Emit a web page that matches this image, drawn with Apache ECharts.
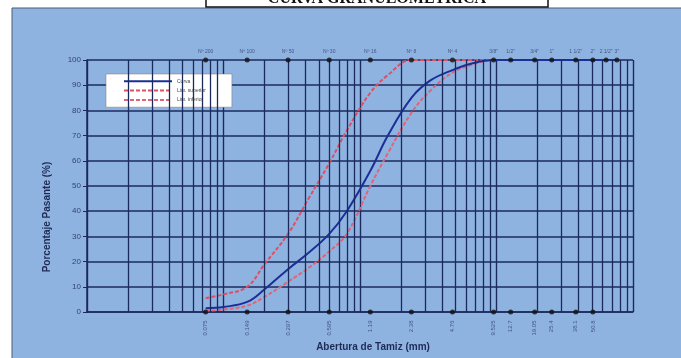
<!DOCTYPE html>
<html>
<head>
<meta charset="utf-8">
<script src="https://cdn.jsdelivr.net/npm/echarts@6/dist/echarts.min.js"></script>
<style>
  html, body { margin: 0; padding: 0; background: #fff; }
  #chart { width: 681px; height: 358px; }
</style>
</head>
<body>
<div id="chart"></div>
<script>
// tamaños (mm)
const sizes = [0.074, 0.1, 0.149, 0.2, 0.297, 0.42, 0.595, 0.8, 1.19, 1.6, 2.38, 3.3, 4.76, 6.5, 9.525, 12.7, 19.05, 25.4, 38.1, 50.8, 63.5, 76.2]
const curva = [1.5, 2, 4, 9, 17, 23.5, 31, 40, 56, 70, 85, 92, 96, 98.5, 100, 100, 100, 100, 100, 100, 100, 100]
const limSuperior = [5.5, 7, 10, 19, 31, 45, 59, 72, 87, 94, 100, 100, 100, 100, 100, 100, 100, 100, 100, 100, 100, 100]
const limInferior = [0.5, 1, 2.5, 6, 12, 17.5, 24, 31, 50, 63, 79, 88, 95, 98, 100, 100, 100, 100, 100, 100, 100, 100]

// tamices
const sieveSizes = [0.074, 0.149, 0.297, 0.595, 1.19, 2.38, 4.76, 9.525, 12.7, 19.05, 25.4, 38.1, 50.8, 63.5, 76.2]
const sieveNames = ['Nº 200', 'Nº 100', 'Nº 50', 'Nº 30', 'Nº 16', 'Nº 8', 'Nº 4', '3/8"', '1/2"', '3/4"', '1"', '1 1/2"', '2"', '2 1/2"', '3"']
const bottomLabels = ['0.075', '0.149', '0.297', '0.595', '1.19', '2.38', '4.76', '9.525', '12.7', '19.05', '25.4', '38.1', '50.8']

const navy = '#1b2a5c'
const blue = '#8fb3e0'

// lineas de la grilla logaritmica (2..9 de cada decada)
const minorLines = []
for (let e = -2; e < 2; e++) {
  for (let m = 2; m <= 9; m++) {
    minorLines.push({ xAxis: +(m * Math.pow(10, e)).toPrecision(3) })
  }
}

const pairs = (ys) => sizes.map((s, i) => [s, ys[i]])

const chart = echarts.init(document.getElementById('chart'), null, { renderer: 'canvas' })

const option = {
  backgroundColor: '#fff',
  animation: false,
  graphic: [
    {
      type: 'rect', z: -10,
      shape: { x: 12, y: 8, width: 690, height: 360 },
      style: { fill: blue, stroke: '#4a5a78', lineWidth: 1 }
    },
    {
      type: 'rect', z: 10,
      shape: { x: 206, y: -5, width: 342, height: 12 },
      style: { fill: '#fff', stroke: '#111', lineWidth: 1.5 }
    },
    {
      type: 'text', z: 11, x: 377, y: 6.5,
      style: {
        text: 'CURVA GRANULOMETRICA', fill: '#111',
        font: 'bold 16px "Liberation Serif", serif',
        align: 'center', verticalAlign: 'bottom'
      }
    },
    {
      type: 'text', x: 47, y: 217, rotation: Math.PI / 2,
      style: {
        text: 'Porcentaje Pasante (%)', fill: '#1f2b55',
        font: 'bold 10px "Liberation Sans", Arial, sans-serif',
        align: 'center', verticalAlign: 'middle'
      }
    },
    {
      type: 'text', x: 373, y: 347,
      style: {
        text: 'Abertura de Tamiz (mm)', fill: '#1f2b55',
        font: 'bold 10px "Liberation Sans", Arial, sans-serif',
        align: 'center', verticalAlign: 'middle'
      }
    }
  ],
  grid: { left: 87, right: 48, top: 60, bottom: 46 },
  legend: {
    orient: 'vertical',
    left: 106, top: 74,
    backgroundColor: '#fff',
    borderColor: '#777', borderWidth: 0.5,
    padding: [4, 26, 4, 17],
    itemGap: 3, itemWidth: 48, itemHeight: 8,
    itemStyle: { opacity: 0 },
    textStyle: { fontSize: 5, color: '#444', fontFamily: 'Arial' },
    data: ['Curva', 'Lim. superior', 'Lim. inferior']
  },
  xAxis: {
    type: 'log', logBase: 10, min: 0.01, max: 100,
    axisLabel: { show: false },
    axisTick: { show: false },
    axisLine: { show: true, lineStyle: { color: navy, width: 1.5 } },
    splitLine: { show: true, lineStyle: { color: navy, width: 1.4 } }
  },
  yAxis: {
    type: 'value', min: 0, max: 100, interval: 10,
    axisLine: { show: true, lineStyle: { color: navy, width: 1.5 } },
    axisTick: { show: true, length: 4, lineStyle: { color: navy } },
    axisLabel: { fontSize: 8, color: '#34446e', margin: 6, fontFamily: 'Arial' },
    splitLine: { show: true, lineStyle: { color: navy, width: 1.5 } }
  },
  series: [
    {
      name: 'grilla', type: 'line', data: [], z: 1, silent: true,
      markLine: {
        silent: true, symbol: 'none', animation: false,
        label: { show: false },
        lineStyle: { color: navy, width: 1.3, type: 'solid' },
        data: minorLines
      }
    },
    {
      name: 'Lim. superior', type: 'line', z: 3,
      data: pairs(limSuperior), symbol: 'none', smooth: 0.4,
      lineStyle: { color: '#dd4f63', width: 2, type: [4, 2] },
      itemStyle: { color: '#dd4f63' }
    },
    {
      name: 'Lim. inferior', type: 'line', z: 3,
      data: pairs(limInferior), symbol: 'none', smooth: 0.4,
      lineStyle: { color: '#e06478', width: 2, type: [4, 2] },
      itemStyle: { color: '#e06478' }
    },
    {
      name: 'Curva', type: 'line', z: 4,
      data: pairs(curva), symbol: 'none', smooth: 0.4,
      lineStyle: { color: '#1c2f96', width: 2 },
      itemStyle: { color: '#1c2f96' }
    },
    {
      name: 'tamices', type: 'scatter', z: 5, clip: false, silent: true,
      symbolSize: 5, itemStyle: { color: '#111' },
      data: sieveSizes.map((s) => [s, 100]),
      label: {
        show: true, position: 'top', distance: 3,
        fontSize: 5, color: '#2c3c6c', fontFamily: 'Arial',
        formatter: (p) => sieveNames[p.dataIndex]
      }
    },
    {
      name: 'aberturas', type: 'scatter', z: 5, clip: false, silent: true,
      symbolSize: 5, itemStyle: { color: '#111' },
      data: bottomLabels.map((t, i) => [sieveSizes[i], 0]),
      label: {
        show: true, position: 'bottom', distance: 6,
        rotate: 90, align: 'right', verticalAlign: 'middle',
        fontSize: 6, color: '#2c3c6c', fontFamily: 'Arial',
        formatter: (p) => bottomLabels[p.dataIndex]
      }
    }
  ]
}

chart.setOption(option)
</script>
</body>
</html>
